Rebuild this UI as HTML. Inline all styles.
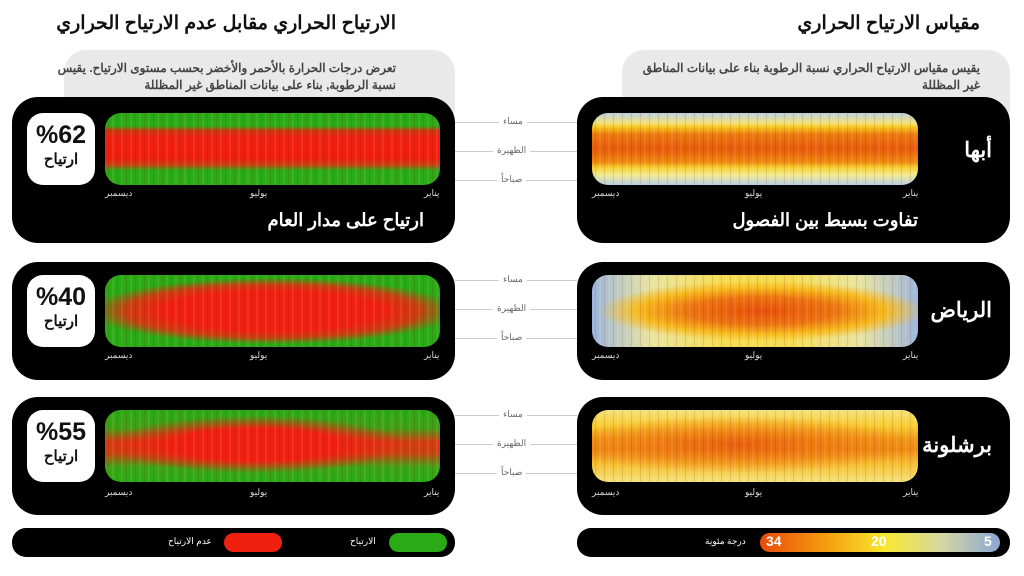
<!DOCTYPE html>
<html><head><meta charset="utf-8"><style>
*{margin:0;padding:0;box-sizing:border-box}
body{width:1024px;height:576px;background:#fff;position:relative;overflow:hidden;font-family:"Liberation Sans","Noto Sans CJK SC",sans-serif;direction:rtl}
.abs{position:absolute}
.h1{font-size:19px;font-weight:bold;color:#111;white-space:nowrap}
.gray{background:#e9e9e9;border-radius:22px}
.desc{font-size:12px;color:#444;line-height:17px;font-weight:bold}
.card{background:#000;border-radius:26px}
.hm{border-radius:16px;overflow:hidden}
.ax{font-size:9px;color:#ddd;white-space:nowrap}
.city{color:#fff;font-size:21px;font-weight:bold;white-space:nowrap}
.sub{color:#fff;font-size:18px;font-weight:bold;white-space:nowrap}
.pct{background:#fff;border-radius:16px;text-align:center;color:#111;font-weight:bold}
.tl{font-size:9px;color:#666;white-space:nowrap}
.line{height:1px;background:#ccc}
.stripes{position:absolute;inset:0;background:repeating-linear-gradient(90deg,rgba(0,0,0,.0) 0 3px,rgba(120,0,0,.12) 3px 4px,rgba(0,0,0,0) 4px 7px,rgba(255,255,255,.08) 7px 9px)}
</style></head><body>
<div class="abs h1" style="right:44px;top:12px">مقياس الارتياح الحراري</div>
<div class="abs h1" style="right:628px;top:12px">الارتياح الحراري مقابل عدم الارتياح الحراري</div>

<div class="abs gray" style="left:622px;top:50px;width:388px;height:80px"></div>
<div class="abs desc" style="right:44px;top:60px;width:340px">يقيس مقياس الارتياح الحراري نسبة الرطوبة بناء على بيانات المناطق غير المظللة</div>
<div class="abs gray" style="left:64px;top:50px;width:391px;height:80px"></div>
<div class="abs desc" style="right:628px;top:60px;width:340px">تعرض درجات الحرارة بالأحمر والأخضر بحسب مستوى الارتياح. يقيس نسبة الرطوبة, بناء على بيانات المناطق غير المظللة</div>

<div class="abs" style="left:455px;top:0;width:122px;height:576px">
 <div class="abs line" style="left:0;width:122px;top:122px"></div><div class="abs tl" style="left:44px;top:116px;background:#fff;padding:0 4px">مساء</div>
 <div class="abs line" style="left:0;width:122px;top:151px"></div><div class="abs tl" style="left:38px;top:145px;background:#fff;padding:0 4px">الظهيرة</div>
 <div class="abs line" style="left:0;width:122px;top:180px"></div><div class="abs tl" style="left:42px;top:174px;background:#fff;padding:0 4px">صباحاً</div>
 <div class="abs line" style="left:0;width:122px;top:280px"></div><div class="abs tl" style="left:44px;top:274px;background:#fff;padding:0 4px">مساء</div>
 <div class="abs line" style="left:0;width:122px;top:309px"></div><div class="abs tl" style="left:38px;top:303px;background:#fff;padding:0 4px">الظهيرة</div>
 <div class="abs line" style="left:0;width:122px;top:338px"></div><div class="abs tl" style="left:42px;top:332px;background:#fff;padding:0 4px">صباحاً</div>
 <div class="abs line" style="left:0;width:122px;top:415px"></div><div class="abs tl" style="left:44px;top:409px;background:#fff;padding:0 4px">مساء</div>
 <div class="abs line" style="left:0;width:122px;top:444px"></div><div class="abs tl" style="left:38px;top:438px;background:#fff;padding:0 4px">الظهيرة</div>
 <div class="abs line" style="left:0;width:122px;top:473px"></div><div class="abs tl" style="left:42px;top:467px;background:#fff;padding:0 4px">صباحاً</div>
</div>

<div class="abs card" style="left:577px;top:97px;width:433px;height:146px"></div>
<div class="abs hm" style="left:592px;top:113px;width:326px;height:72px;background:linear-gradient(180deg,#bcd0e0 0%,#f2e27a 14%,#f7c21a 20%,#ec7a10 30%,#e85a0c 50%,#ee8a10 68%,#f8d030 76%,#f0ea90 86%,#b8cce6 100%)"><div class="stripes"></div></div>
<div class="abs city" style="right:32px;top:138px">أبها</div>
<div class="abs ax" style="left:592px;top:188px">ديسمبر</div><div class="abs ax" style="left:745px;top:188px">يوليو</div><div class="abs ax" style="left:903px;top:188px">يناير</div>
<div class="abs sub" style="right:106px;top:210px">تفاوت بسيط بين الفصول</div>

<div class="abs card" style="left:577px;top:262px;width:433px;height:118px"></div>
<div class="abs hm" style="left:592px;top:275px;width:326px;height:72px;background:radial-gradient(ellipse 50% 42% at 52% 50%,#e8500a 0%,#ec7410 45%,#f6b81c 75%,rgba(246,220,80,0) 100%),linear-gradient(90deg,#9db6dc 0%,#e8e4a0 18%,#f6dc50 40%,#f6dc50 60%,#e8e4a0 82%,#9db6dc 100%)"><div class="stripes"></div></div>
<div class="abs city" style="right:32px;top:298px">الرياض</div>
<div class="abs ax" style="left:592px;top:350px">ديسمبر</div><div class="abs ax" style="left:745px;top:350px">يوليو</div><div class="abs ax" style="left:903px;top:350px">يناير</div>

<div class="abs card" style="left:577px;top:397px;width:433px;height:118px"></div>
<div class="abs hm" style="left:592px;top:410px;width:326px;height:72px;background:radial-gradient(ellipse 55% 40% at 45% 48%,rgba(232,90,12,.9) 0%,rgba(238,120,16,.7) 50%,rgba(246,200,40,0) 100%),linear-gradient(180deg,#f4e27c 0%,#f8cc30 22%,#f09a18 40%,#ee8a14 55%,#f6c030 75%,#f4e27c 100%)"><div class="stripes"></div></div>
<div class="abs city" style="right:32px;top:433px">برشلونة</div>
<div class="abs ax" style="left:592px;top:487px">ديسمبر</div><div class="abs ax" style="left:745px;top:487px">يوليو</div><div class="abs ax" style="left:903px;top:487px">يناير</div>

<div class="abs card" style="left:12px;top:97px;width:443px;height:146px"></div>
<div class="abs hm" style="left:105px;top:113px;width:335px;height:72px;background:linear-gradient(180deg,#2aaa14 0%,#2aaa14 18%,#c83a10 24%,#f02010 34%,#f01e0c 62%,#c84210 72%,#2aaa14 80%,#2aaa14 100%)"><div class="stripes"></div></div>
<div class="abs pct" style="left:27px;top:113px;width:68px;height:72px"><div style="font-size:25px;padding-top:8px;direction:ltr">%62</div><div style="font-size:15px">ارتياح</div></div>
<div class="abs ax" style="left:105px;top:188px">ديسمبر</div><div class="abs ax" style="left:250px;top:188px">يوليو</div><div class="abs ax" style="left:424px;top:188px">يناير</div>
<div class="abs sub" style="right:600px;top:210px">ارتياح على مدار العام</div>

<div class="abs card" style="left:12px;top:262px;width:443px;height:118px"></div>
<div class="abs hm" style="left:105px;top:275px;width:335px;height:72px;background:radial-gradient(ellipse 55% 46% at 50% 50%,#f02010 0%,#f02010 60%,#c84010 80%,rgba(42,170,20,0) 100%),#2aaa14"><div class="stripes"></div></div>
<div class="abs pct" style="left:27px;top:275px;width:68px;height:72px"><div style="font-size:25px;padding-top:8px;direction:ltr">%40</div><div style="font-size:15px">ارتياح</div></div>
<div class="abs ax" style="left:105px;top:350px">ديسمبر</div><div class="abs ax" style="left:250px;top:350px">يوليو</div><div class="abs ax" style="left:424px;top:350px">يناير</div>

<div class="abs card" style="left:12px;top:397px;width:443px;height:118px"></div>
<div class="abs hm" style="left:105px;top:410px;width:335px;height:72px;background:radial-gradient(ellipse 45% 40% at 45% 48%,#f02010 0%,#f02010 55%,rgba(42,170,20,0) 100%),linear-gradient(180deg,#2aaa14 0%,#40a014 25%,#d83a10 45%,#c84410 60%,#3aa614 80%,#2aaa14 100%)"><div class="stripes"></div></div>
<div class="abs pct" style="left:27px;top:410px;width:68px;height:72px"><div style="font-size:25px;padding-top:8px;direction:ltr">%55</div><div style="font-size:15px">ارتياح</div></div>
<div class="abs ax" style="left:105px;top:487px">ديسمبر</div><div class="abs ax" style="left:250px;top:487px">يوليو</div><div class="abs ax" style="left:424px;top:487px">يناير</div>

<div class="abs card" style="left:577px;top:528px;width:433px;height:29px;border-radius:14px"></div>
<div class="abs" style="left:760px;top:533px;width:240px;height:19px;border-radius:10px;background:linear-gradient(90deg,#e84a0a 0%,#f6a410 30%,#f8e830 52%,#d8d8a0 75%,#8aa6d4 100%)"></div>
<div class="abs" style="left:766px;top:533px;color:#fff;font-weight:bold;font-size:14px;direction:ltr">34</div>
<div class="abs" style="left:871px;top:533px;color:#fff;font-weight:bold;font-size:14px;direction:ltr">20</div>
<div class="abs" style="left:984px;top:533px;color:#fff;font-weight:bold;font-size:14px;direction:ltr">5</div>
<div class="abs ax" style="left:705px;top:536px;color:#fff">درجة مئوية</div>

<div class="abs card" style="left:12px;top:528px;width:443px;height:29px;border-radius:14px"></div>
<div class="abs" style="left:389px;top:533px;width:58px;height:19px;border-radius:10px;background:#2aaa14"></div>
<div class="abs" style="left:224px;top:533px;width:58px;height:19px;border-radius:10px;background:#f02010"></div>
<div class="abs ax" style="left:350px;top:536px;color:#fff">الارتياح</div>
<div class="abs ax" style="left:168px;top:536px;color:#fff">عدم الارتياح</div>
</body></html>
